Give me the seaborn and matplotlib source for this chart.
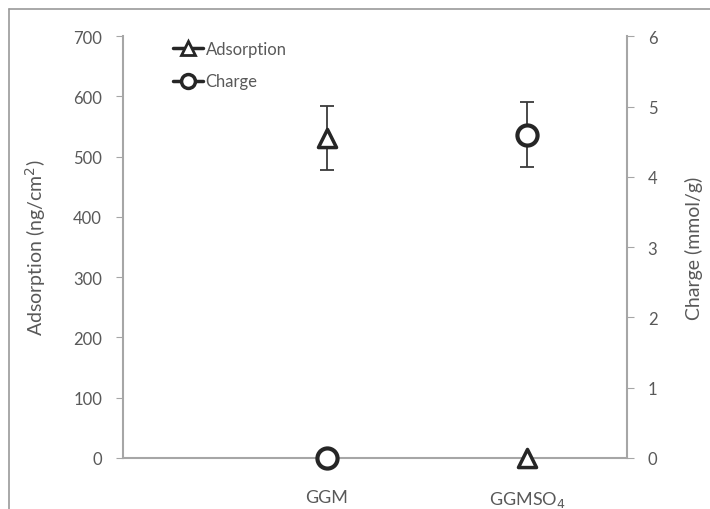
import numpy as np
import pandas as pd
import matplotlib.pyplot as plt
import seaborn as sns
from matplotlib.lines import Line2D

# data
samples = ['GGM', 'GGMSO$_4$']
adsorption = [531, 0]        # ng/cm2
adsorption_err = [53, 0]
charge = [0, 4.6]            # mmol/g
charge_err = [0, 0.46]

sns.set_style('white')
plt.rcParams['font.family'] = ['Lato', 'DejaVu Sans']
grey = '#595959'
axis_grey = '#a6a6a6'
dark = '#262626'

fig = plt.figure(figsize=(7.1, 5.1), dpi=100)
ax = fig.add_axes([0.173, 0.10, 0.71, 0.827])
ax2 = ax.twinx()

df = pd.DataFrame({'x': np.arange(len(samples)), 'ads': adsorption, 'chg': charge})

ax.errorbar(df['x'], df['ads'], yerr=adsorption_err, fmt='none', ecolor='#3a3a3a',
            elinewidth=1.3, capsize=5, capthick=1.3, zorder=2)
sns.scatterplot(data=df, x='x', y='ads', ax=ax, marker='^', s=170, facecolor='white',
                edgecolor=dark, linewidth=2.5, zorder=3, clip_on=False)
ax2.errorbar(df['x'], df['chg'], yerr=charge_err, fmt='none', ecolor='#3a3a3a',
             elinewidth=1.3, capsize=5, capthick=1.3, zorder=2)
sns.scatterplot(data=df, x='x', y='chg', ax=ax2, marker='o', s=210, facecolor='white',
                edgecolor=dark, linewidth=3, zorder=3, clip_on=False)

ax.set_xlim(-1.02, 1.5)
ax.set_ylim(0, 700)
ax2.set_ylim(0, 6)
ax.set_yticks(range(0, 701, 100))
ax2.set_yticks(range(0, 7))
ax.set_xticks(df['x'])
ax.set_xticklabels(samples)
ax.set_xlabel('')
ax.set_ylabel('Adsorption (ng/cm$^2$)', fontsize=14, color=grey, labelpad=18)
ax2.set_ylabel('Charge (mmol/g)', fontsize=14, color=grey, labelpad=20)
ax2.set_xlabel('')

for s in ['top']:
    ax.spines[s].set_visible(False)
    ax2.spines[s].set_visible(False)
ax.spines['right'].set_visible(False)
ax2.spines['left'].set_visible(False)
ax2.spines['bottom'].set_visible(False)
for sp in [ax.spines['left'], ax.spines['bottom'], ax2.spines['right']]:
    sp.set_color(axis_grey)
    sp.set_linewidth(1.5)

ax.tick_params(axis='y', direction='out', length=5, color=axis_grey, labelsize=12,
               labelcolor=grey, left=True, pad=10)
ax.tick_params(axis='x', length=0, labelsize=13, labelcolor=grey, pad=22)
ax2.tick_params(axis='y', direction='out', length=5, color=axis_grey, labelsize=12,
                labelcolor=grey, right=True, pad=10)

handles = [Line2D([], [], color=dark, lw=2.5, marker='^', markersize=10,
                  markerfacecolor='white', markeredgecolor=dark, markeredgewidth=2),
           Line2D([], [], color=dark, lw=2.5, marker='o', markersize=10,
                  markerfacecolor='white', markeredgecolor=dark, markeredgewidth=2.5)]
ax.legend(handles, ['Adsorption', 'Charge'], loc='upper left', bbox_to_anchor=(0.07, 1.025),
          frameon=False, fontsize=12, labelcolor=grey, handlelength=1.8,
          handletextpad=0.15, labelspacing=1.0)

# frame around the picture (left and top edges visible)
fig.add_artist(Line2D([0.013, 0.013], [0, 0.98], color='#9a9a9a', lw=1.2))
fig.add_artist(Line2D([0.013, 1], [0.98, 0.98], color='#9a9a9a', lw=1.2))

fig.savefig('out.png', dpi=100)
